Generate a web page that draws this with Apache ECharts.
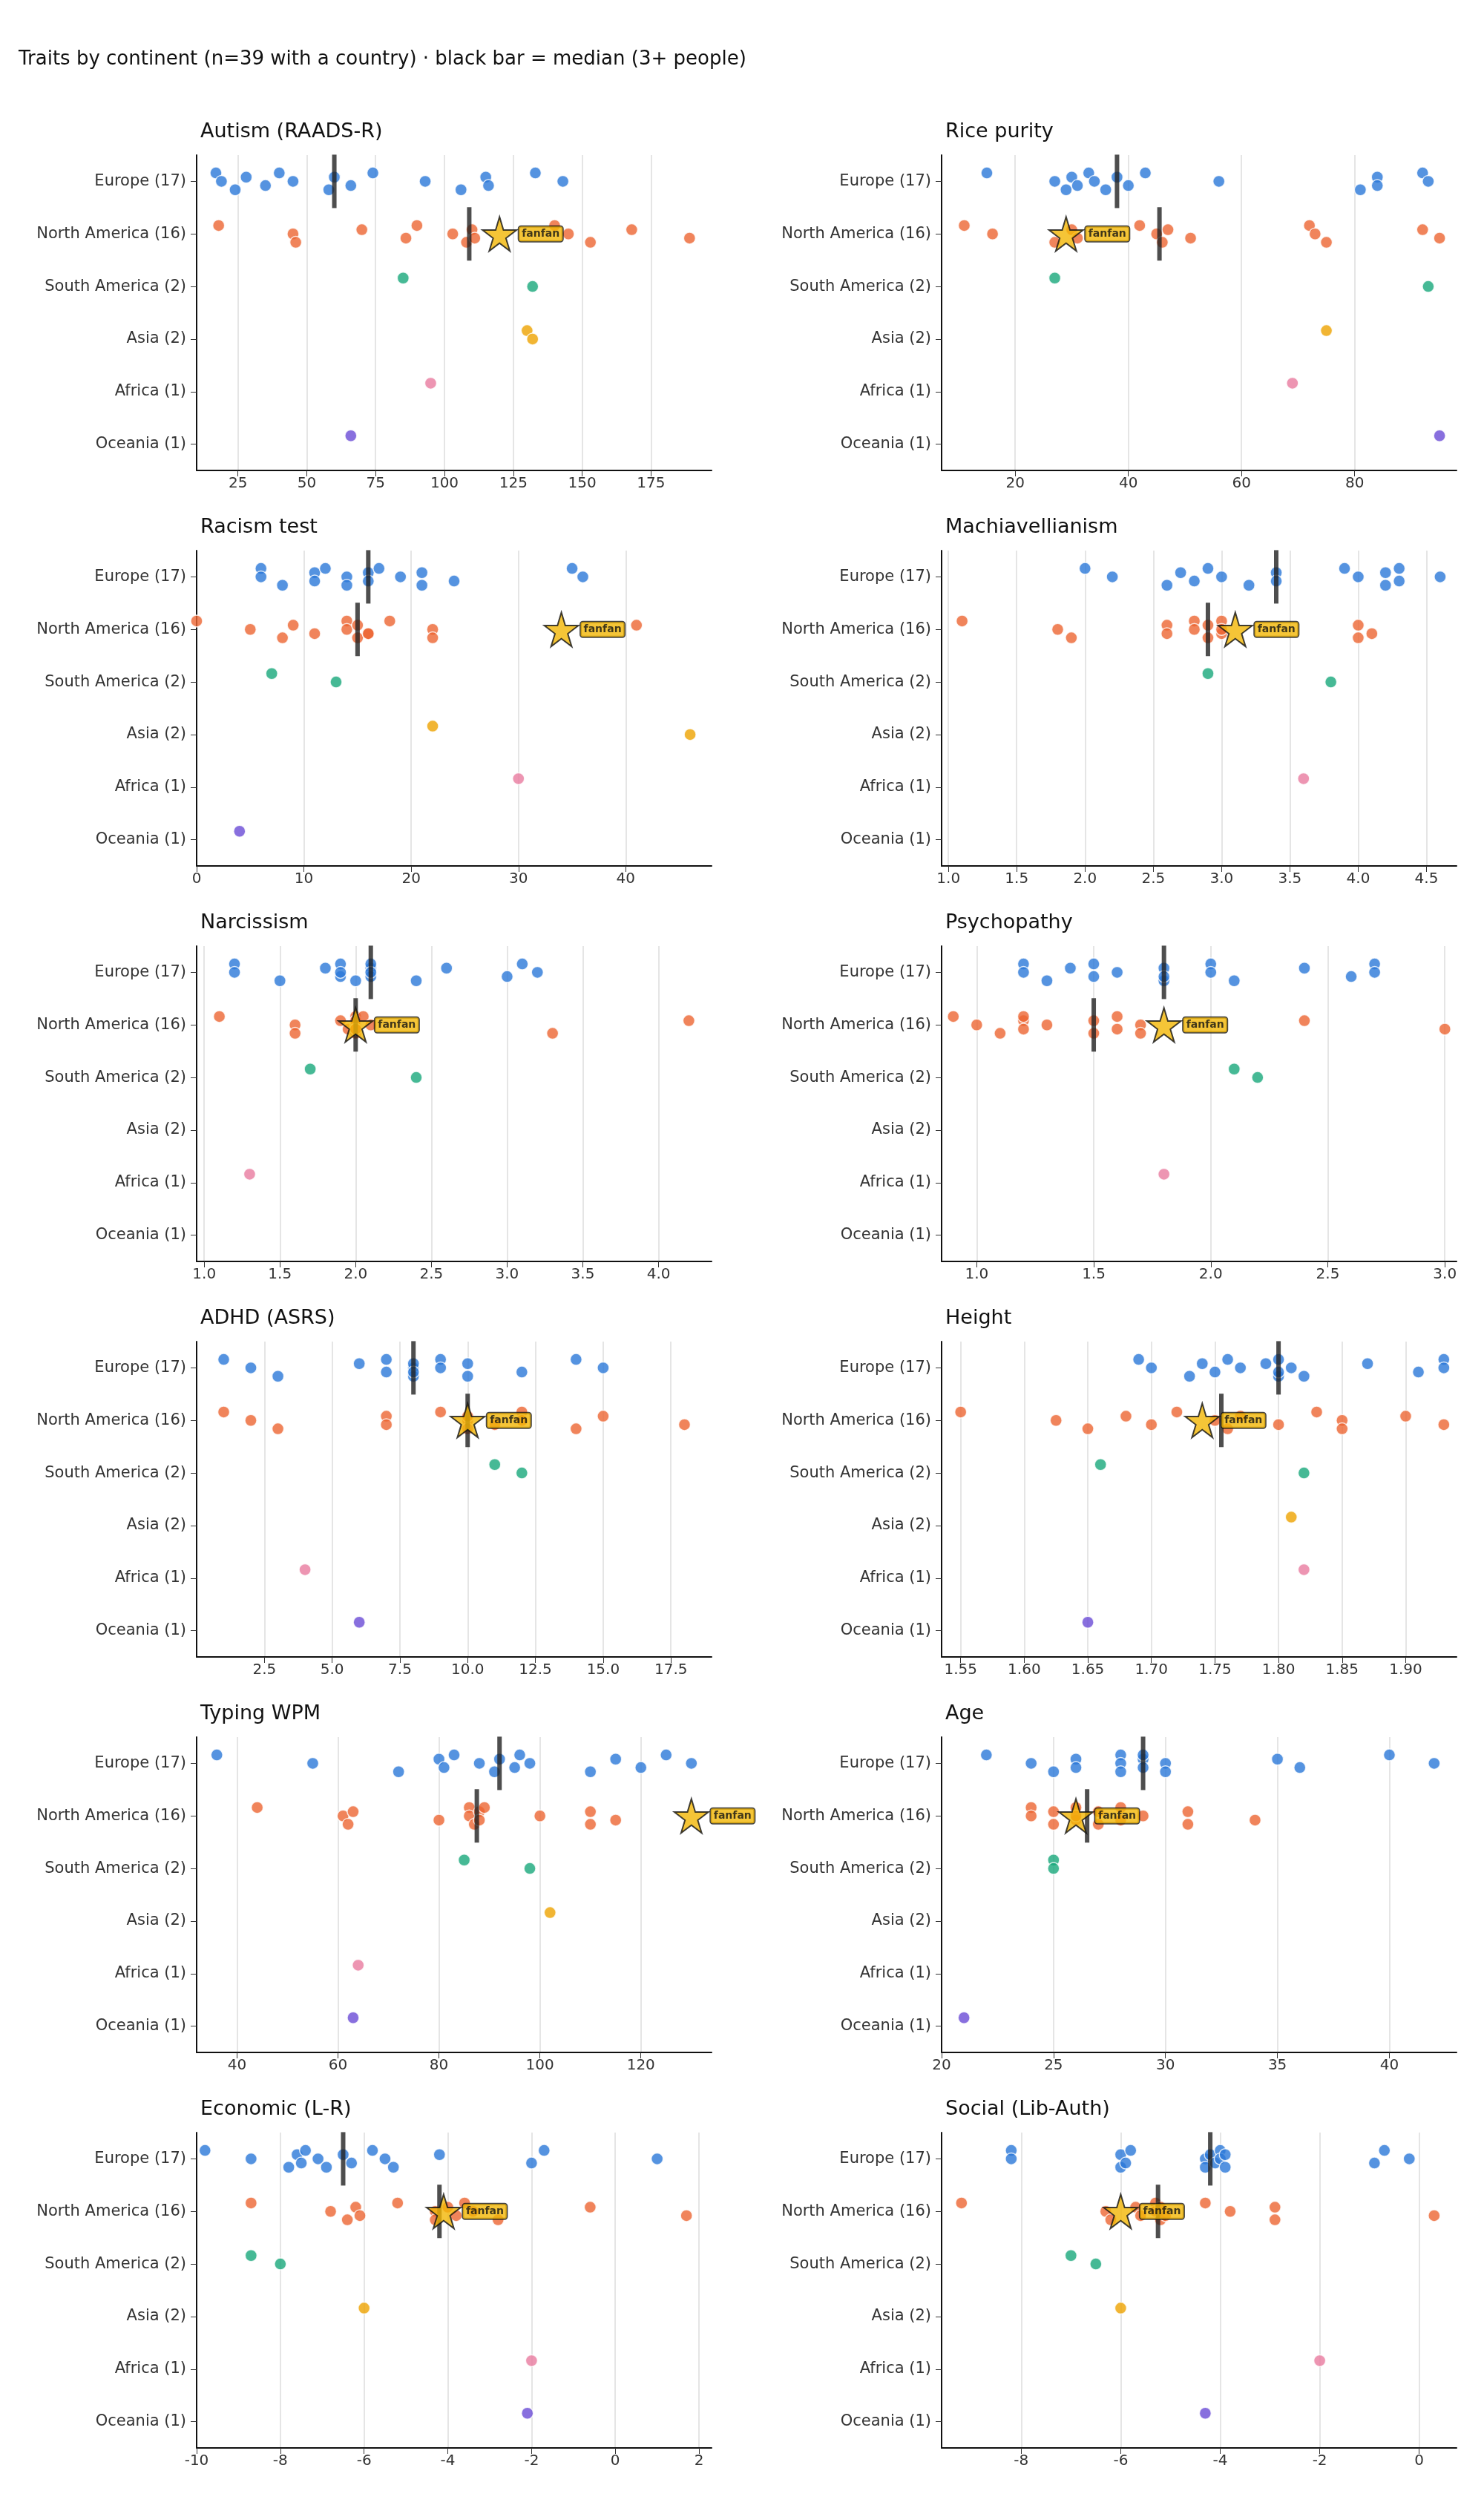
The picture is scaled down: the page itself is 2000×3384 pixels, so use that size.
<!DOCTYPE html>
<html><head><meta charset="utf-8">
<script src="https://cdn.jsdelivr.net/npm/echarts@6/dist/echarts.min.js"></script>
<style>html,body{margin:0;background:#fff}#c{width:2000px;height:3384px}</style>
</head><body><div id="c"></div>
<script>
const continents = ['Europe (17)','North America (16)','South America (2)','Asia (2)','Africa (1)','Oceania (1)'];
const colors = ['#2a78d8','#ec6532','#18a87a','#eda200','#e87b9f','#6a4bd6'];
const panelTitles = ['Autism (RAADS-R)','Rice purity','Racism test','Machiavellianism','Narcissism','Psychopathy','ADHD (ASRS)','Height','Typing WPM','Age','Economic (L-R)','Social (Lib-Auth)'];
// values per panel: [Europe, North America, South America, Asia, Africa, Oceania]
const autism = [[17,19,24,28,35,40,45,58,60,66,74,93,106,115,116,133,143],[18,45,46,70,86,90,103,108,110,111,140,145,153,168,189],[85,132],[130,132],[95],[66]];
const rice = [[15,27,29,30,31,33,34,36,38,40,43,56,81,84,84,92,93],[11,16,27,30,31,42,45,46,47,51,72,73,75,92,95],[27,93],[75],[69],[95]];
const racism = [[6,6,8,11,11,12,14,14,16,16,17,19,21,21,24,35,36],[0,5,8,9,11,14,14,15,15,16,18,22,22,41,16],[7,13],[22,46],[30],[4]];
const mach = [[2.0,2.2,2.6,2.7,2.8,2.9,3.0,3.2,3.4,3.4,3.9,4.0,4.2,4.2,4.3,4.3,4.6],[1.1,1.8,1.9,2.6,2.6,2.8,2.8,2.9,2.9,3.0,3.0,3.0,4.0,4.0,4.1],[2.9,3.8],[],[3.6],[]];
const narc = [[1.2,1.2,1.5,1.8,1.9,1.9,1.9,2.0,2.1,2.1,2.1,2.1,2.4,2.6,3.0,3.1,3.2],[1.1,1.6,1.6,1.9,1.95,2.0,2.0,2.0,2.0,2.0,2.05,2.1,3.3,4.2,2.0],[1.7,2.4],[],[1.3],[]];
const psych = [[1.2,1.2,1.3,1.4,1.5,1.5,1.6,1.8,1.8,1.8,2.0,2.0,2.1,2.4,2.6,2.7,2.7],[0.9,1.0,1.1,1.2,1.2,1.2,1.3,1.5,1.5,1.6,1.6,1.7,1.7,2.4,3.0],[2.1,2.2],[],[1.8],[]];
const adhd = [[1,2,3,6,7,7,8,8,8,8,9,9,10,10,12,14,15],[1,2,3,7,7,9,10,10,10,11,12,12,14,15,18],[11,12],[],[4],[6]];
const height = [[1.69,1.70,1.73,1.74,1.75,1.76,1.77,1.80,1.79,1.80,1.80,1.81,1.82,1.87,1.91,1.93,1.93],[1.55,1.625,1.65,1.68,1.70,1.72,1.75,1.76,1.77,1.80,1.83,1.85,1.85,1.90,1.93],[1.66,1.82],[1.81],[1.82],[1.65]];
const wpm = [[36,55,72,80,81,83,88,91,92,95,96,98,110,115,120,125,130],[44,61,62,63,80,86,86,87,88,88,89,100,110,110,115],[85,98],[102],[64],[63]];
const age = [[22,24,25,26,26,28,28,28,29,29,29,30,30,35,36,40,42],[24,24,25,25,26,26,26,27,27,28,28,29,31,31,34],[25,25],[],[],[21]];
const econ = [[-9.8,-8.7,-7.8,-7.6,-7.5,-7.4,-7.1,-6.9,-6.5,-6.3,-5.8,-5.5,-5.3,-4.2,-2.0,-1.7,1.0],[-8.7,-6.8,-6.4,-6.2,-6.1,-5.2,-4.3,-4.3,-4.0,-3.8,-3.6,-3.4,-2.8,-0.6,1.7],[-8.7,-8.0],[-6.0],[-2.0],[-2.1]];
const social = [[-8.2,-8.2,-6.0,-6.0,-5.9,-5.8,-4.3,-4.3,-4.2,-4.1,-4.0,-4.0,-3.9,-3.9,-0.9,-0.7,-0.2],[-9.2,-6.3,-6.2,-5.7,-5.6,-5.3,-5.3,-5.2,-5.2,-5.1,-4.3,-3.8,-2.9,-2.9,0.3],[-7.0,-6.5],[-6.0],[-2.0],[-4.3]];
const fanfan = [120,29,34,3.1,2.0,1.8,10,1.74,130,26,-4.1,-6.0];
const panelData = [autism,rice,racism,mach,narc,psych,adhd,height,wpm,age,econ,social];
const xMin = [10,7,0,0.95,0.95,0.85,0,1.535,32,20,-10,-9.6];
const xMax = [197,98,48,4.72,4.35,3.05,19,1.94,134,43,2.3,0.75];
const xTicks = [[25,50,75,100,125,150,175],[20,40,60,80],[0,10,20,30,40],[1.0,1.5,2.0,2.5,3.0,3.5,4.0,4.5],[1.0,1.5,2.0,2.5,3.0,3.5,4.0],[1.0,1.5,2.0,2.5,3.0],[2.5,5.0,7.5,10.0,12.5,15.0,17.5],[1.55,1.60,1.65,1.70,1.75,1.80,1.85,1.90],[40,60,80,100,120],[20,25,30,35,40],[-10,-8,-6,-4,-2,0,2],[-8,-6,-4,-2,0]];
const tickFmt = [0,0,0,1,1,1,1,2,0,0,0,0];

function median(a){const s=[...a].sort((x,y)=>x-y);const n=s.length;return n%2?s[(n-1)/2]:(s[n/2-1]+s[n/2])/2;}

const grids=[],xAxes=[],yAxes=[],series=[],titles=[];
titles.push({text:'Traits by continent (n=39 with a country) · black bar = median (3+ people)',left:20,top:62,textStyle:{fontSize:26,fontWeight:'normal',color:'#111',fontFamily:'DejaVu Sans'}});
panelData.forEach((pd,p)=>{
  const col=p%2,row=Math.floor(p/2);
  const left=col?1269:265, top=209+533*row;
  grids.push({left:left,top:top,width:694,height:425});
  titles.push({text:panelTitles[p],left:left,top:top-50,textStyle:{fontSize:27,fontWeight:'normal',color:'#111',fontFamily:'DejaVu Sans'}});
  xAxes.push({type:'value',gridIndex:p,min:xMin[p],max:xMax[p],
    axisLine:{show:true,onZero:false,lineStyle:{color:'#111',width:2}},
    axisTick:{show:true,customValues:xTicks[p],length:8,lineStyle:{color:'#333'}},
    axisLabel:{customValues:xTicks[p],fontSize:20,color:'#333',fontFamily:'DejaVu Sans',formatter:v=>v.toFixed(tickFmt[p])},
    splitLine:{show:true,lineStyle:{color:'#dddddd',width:1.5}}});
  yAxes.push({type:'category',gridIndex:p,data:continents,inverse:true,
    axisLine:{show:true,onZero:false,lineStyle:{color:'#111',width:2}},axisTick:{show:true,alignWithLabel:true,length:8,lineStyle:{color:'#333'}},
    axisLabel:{fontSize:21,color:'#333',fontFamily:'DejaVu Sans',margin:14},splitLine:{show:false}});
  const vy=yAxes.length;
  yAxes.push({type:'value',gridIndex:p,min:0,max:6,inverse:true,show:false});
  pd.forEach((vals,c)=>{
    const pts=vals.map((v,i)=>[v,c+0.5+(((i*7)%5)-2)*0.08]);
    series.push({type:'scatter',xAxisIndex:p,yAxisIndex:vy,data:pts,symbolSize:16,z:3,
      itemStyle:{color:colors[c],borderColor:'#fff',borderWidth:1.5}});
    const n = vals.length + (c===1?1:0);
    if(n>=3){
      const all = c===1?vals.concat([fanfan[p]]):vals;
      series.push({type:'scatter',xAxisIndex:p,yAxisIndex:vy,data:[[median(all),c+0.5]],symbol:'rect',symbolSize:[6,72],z:4,itemStyle:{color:'#222'}});
    }
  });
  series.push({type:'scatter',xAxisIndex:p,yAxisIndex:vy,data:[[fanfan[p],1.5]],symbol:'path://M50,0 L61,35 L98,35 L68,57 L79,91 L50,70 L21,91 L32,57 L2,35 L39,35 Z',symbolSize:46,z:6,
    itemStyle:{color:'#f2b705',borderColor:'#111',borderWidth:2},
    label:{show:true,formatter:'fanfan',position:'right',distance:2,fontSize:14,fontWeight:'bold',color:'#111',backgroundColor:'#f2b705',borderColor:'#111',borderWidth:1.5,borderRadius:3,padding:[3,4],fontFamily:'DejaVu Sans'}});
});
const chart=echarts.init(document.getElementById('c'));
chart.setOption({animation:false,backgroundColor:'#fff',title:titles,grid:grids,xAxis:xAxes,yAxis:yAxes,series:series});
</script></body></html>
